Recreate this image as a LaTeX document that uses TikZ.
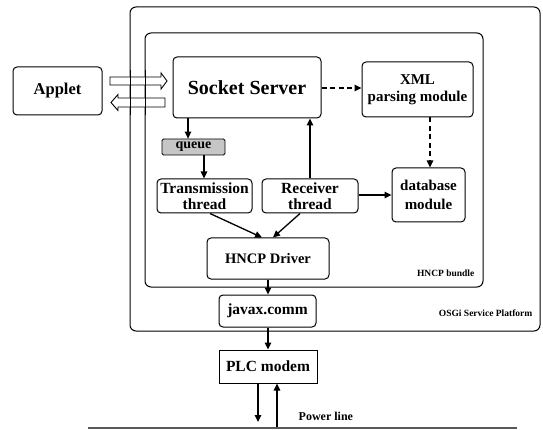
\documentclass[tikz,border=0pt]{standalone}
\usepackage{fontspec}
\setmainfont{Liberation Serif}
\usetikzlibrary{arrows.meta,calc}
\newcommand{\fsz}[2]{\fontsize{#1}{#2}\selectfont\bfseries}
\begin{document}
\begin{tikzpicture}[x=1pt,y=-1pt,
  box/.style={draw, line width=1pt, rounded corners=4pt, align=center, inner sep=0.5pt, font=\fsz{15}{17}},
  arr/.style={line width=1.3pt, -{Triangle[length=7pt,width=6.5pt]}},
  darr/.style={arr, dash pattern=on 5pt off 3.5pt},
  frame/.style={draw, line width=1pt, rounded corners=6pt},
  lbl/.style={inner sep=0.5pt, font=\fsz{9.5}{11}}]
\useasboundingbox (0,0) rectangle (543,430);
% frames
\draw[frame] (130,7) rectangle (540,331);
\draw[frame] (145,33) rectangle (483,287);
\node[lbl, anchor=east] (osgilbl) at (533,313) {OSGi Service Platform};
\node[lbl, anchor=east] (hncplbl) at (475,273) {HNCP bundle};
% nodes
\node[box, font=\fsz{16.5}{18}, minimum width=89pt, minimum height=48pt] (applet) at (57.5,91) {Applet};
\node[box, font=\fsz{20}{22}, minimum width=148pt, minimum height=61pt] (socket) at (247,87.5) {Socket Server};
\node[box, minimum width=111pt, minimum height=55pt] (xml) at (417.5,89.5) {XML\\parsing module};
\node[box, font=\fsz{14}{15}, fill=gray!45, rounded corners=1.5pt, line width=0.8pt, minimum width=63pt, minimum height=16pt] (queue) at (193.5,147) {queue};
\node[box, font=\fsz{15.5}{16}, minimum width=95pt, minimum height=34pt] (trans) at (204.5,196) {Transmission\\thread};
\node[box, font=\fsz{15.5}{16}, minimum width=96pt, minimum height=34pt] (recv) at (310,196) {Receiver\\thread};
\node[box, font=\fsz{15}{19}, minimum width=73pt, minimum height=54pt] (db) at (428.5,195) {database\\module};
\node[box, font=\fsz{14.5}{16}, minimum width=122pt, minimum height=41pt] (driver) at (268,258.5) {HNCP Driver};
\node[box, font=\fsz{15.5}{17}, minimum width=97pt, minimum height=32pt] (javax) at (267.5,311) {javax.comm};
\node[box, rounded corners=0pt, font=\fsz{15.5}{17}, minimum width=98pt, minimum height=33pt] (plc) at (268,366.5) {PLC modem};
% hollow arrows between applet and socket server
\draw[line width=0.9pt, fill=white] (110,77) -- (161,77) -- (161,73) -- (167,81) -- (161,89) -- (161,85) -- (110,85) -- cycle;
\draw[line width=0.9pt, fill=white] (165,98) -- (118,98) -- (118,94.5) -- (111,102.5) -- (118,110.5) -- (118,107) -- (165,107) -- cycle;
\draw[line width=1pt] (130,70) -- (130,115);
\draw[line width=1pt] (145,70) -- (145,115);
% coordinates for connectors
\coordinate (c188) at (188,0);
\coordinate (c204) at (204,0);
\coordinate (c310) at (310,0);
\coordinate (c430) at (430,0);
\coordinate (c268) at (268,0);
\coordinate (y88) at (0,88);
\coordinate (y195) at (0,195);
\coordinate (tr1) at (210,0);
\coordinate (rc1) at (300,0);
\coordinate (dr1) at (262,0);
\coordinate (dr2) at (273,0);
\coordinate (pdn) at (258,422);
\coordinate (pup) at (277,427);
\coordinate (plA) at (88,428);
\coordinate (plB) at (517,428);
% connectors
\draw[arr] (socket.south -| c188) -- (queue.north -| c188);
\draw[arr] (queue.south -| c204) -- (trans.north -| c204);
\draw[arr] (recv.north -| c310) -- (socket.south -| c310);
\draw[darr] (socket.east |- y88) -- (xml.west |- y88);
\draw[darr] (xml.south -| c430) -- (db.north -| c430);
\draw[arr] (recv.east |- y195) -- (db.west |- y195);
\draw[arr] (trans.south -| tr1) -- (driver.north -| dr1);
\draw[arr] (recv.south -| rc1) -- (driver.north -| dr2);
\draw[arr] (driver.south -| c268) -- (javax.north -| c268);
\draw[arr] (javax.south -| c268) -- (plc.north -| c268);
\draw[arr] (plc.south -| pdn) -- (pdn);
\draw[arr] (pup) -- (plc.south -| pup);
\draw[line width=1.6pt, gray!70!black] (plA) -- (plB);
\node[inner sep=0.5pt, font=\fsz{12}{13}, anchor=west] (pwr) at (298,416) {Power line};
\end{tikzpicture}
\end{document}
